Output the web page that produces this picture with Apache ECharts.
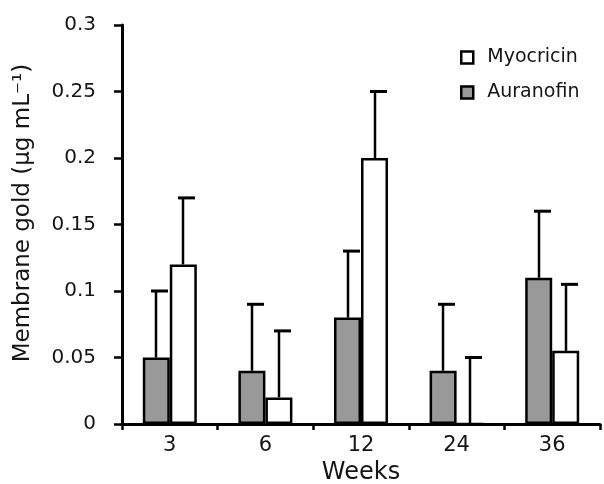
<!DOCTYPE html>
<html>
<head>
<meta charset="utf-8">
<script src="https://cdn.jsdelivr.net/npm/echarts@6/dist/echarts.min.js"></script>
<style>html,body{margin:0;padding:0;background:#fff}#c{width:604px;height:484px}</style>
</head>
<body>
<div id="c"></div>
<script>
const categories = ['3', '6', '12', '24', '36'];
const auranofin = [0.05, 0.04, 0.08, 0.04, 0.11];
const myocricin = [0.12, 0.02, 0.20, 0, 0.055];
const auranofinErrTop = [0.10, 0.09, 0.13, 0.09, 0.16];
const myocricinErrTop = [0.17, 0.07, 0.25, 0.05, 0.105];
const yTicks = [0, 0.05, 0.1, 0.15, 0.2, 0.25, 0.3];

const FONT = 'DejaVu Sans';
const TXT = '#151515';
const chart = echarts.init(document.getElementById('c'), null, {renderer: 'canvas'});

function errSeries(name, vals, tops, offset) {
  return {
    name: name,
    type: 'custom',
    z: 3,
    data: categories.map((c, i) => [i, vals[i], tops[i]]),
    renderItem: function (params, api) {
      const base = api.coord([api.value(0), api.value(1)]);
      const top = api.coord([api.value(0), api.value(2)]);
      const cx = Math.round(base[0] + offset);
      return {
        type: 'group',
        children: [
          {type: 'line', shape: {x1: cx, y1: base[1], x2: cx, y2: top[1]}, style: {stroke: '#000', lineWidth: 2.5}},
          {type: 'line', shape: {x1: cx - 5, y1: top[1], x2: cx + 12, y2: top[1]}, style: {stroke: '#000', lineWidth: 3}}
        ]
      };
    }
  };
}

chart.setOption({
  animation: false,
  backgroundColor: '#fff',
  grid: {left: 122, right: 4, top: 25, bottom: 60, containLabel: false, outerBoundsMode: 'none'},
  legend: {
    data: ['Myocricin', 'Auranofin'],
    orient: 'vertical',
    left: 455,
    top: 43,
    itemWidth: 12,
    itemHeight: 12,
    itemGap: 16,
    icon: 'rect',
    itemStyle: {borderWidth: 2.5, borderColor: '#000'},
    textStyle: {fontFamily: FONT, fontSize: 19, color: TXT, padding: [0, 0, 0, 9]}
  },
  xAxis: {
    type: 'category',
    data: categories,
    name: 'Weeks',
    nameLocation: 'middle',
    nameGap: 36,
    nameTextStyle: {fontFamily: FONT, fontSize: 24, color: TXT},
    axisLine: {lineStyle: {color: '#000', width: 3}},
    axisTick: {show: true, length: 6, lineStyle: {color: '#000', width: 2.5}},
    axisLabel: {fontFamily: FONT, fontSize: 21, color: TXT, margin: 11},
    splitLine: {show: false}
  },
  yAxis: {
    type: 'value',
    min: 0,
    max: 0.3,
    interval: 0.05,
    axisLine: {show: true, lineStyle: {color: '#000', width: 3}},
    axisTick: {show: true, length: 8, lineStyle: {color: '#000', width: 2.5}},
    axisLabel: {
      fontFamily: FONT, fontSize: 20, color: TXT, margin: 26,
      formatter: v => String(yTicks.reduce((a, b) => Math.abs(b - v) < Math.abs(a - v) ? b : a))
    },
    splitLine: {show: false}
  },
  graphic: [{
    type: 'text',
    x: 23,
    y: 213,
    rotation: Math.PI / 2,
    style: {
      text: 'Membrane gold (µg mL⁻¹)',
      fontFamily: FONT,
      fontSize: 23,
      fill: TXT,
      align: 'center',
      verticalAlign: 'middle'
    }
  }],
  series: [
    {
      name: 'Auranofin',
      type: 'bar',
      data: auranofin,
      barWidth: 27,
      barGap: '0%',
      itemStyle: {color: '#999999', borderColor: '#000', borderWidth: 2.5}
    },
    {
      name: 'Myocricin',
      type: 'bar',
      data: myocricin,
      barWidth: 27,
      barGap: '0%',
      itemStyle: {color: '#ffffff', borderColor: '#000', borderWidth: 2.5}
    },
    errSeries('errA', auranofin, auranofinErrTop, -13.5),
    errSeries('errM', myocricin, myocricinErrTop, 13.5)
  ]
});
</script>
</body>
</html>
